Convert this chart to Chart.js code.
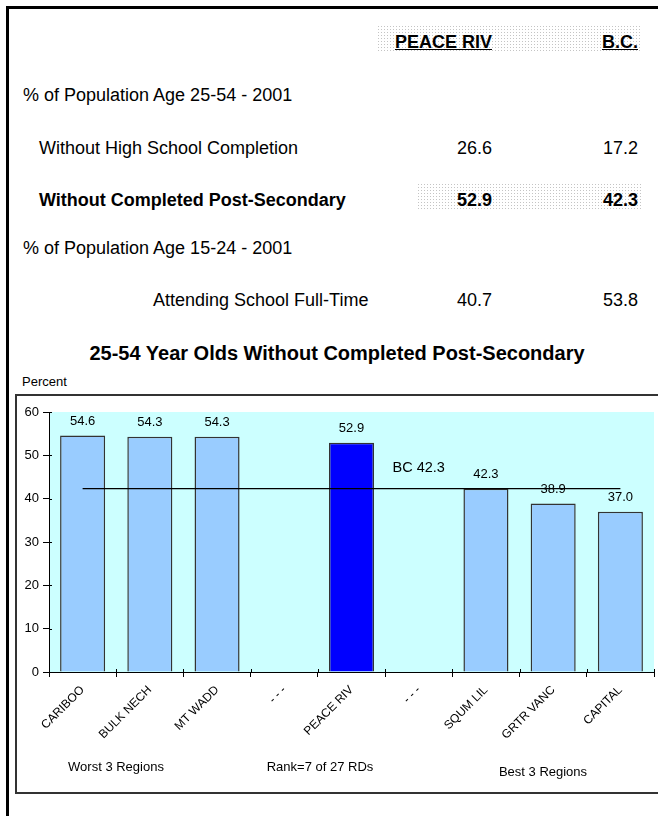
<!DOCTYPE html>
<html><head><meta charset="utf-8">
<script src="https://cdn.jsdelivr.net/npm/chart.js@4.4.0/dist/chart.umd.min.js"></script>
<style>
html,body{margin:0;padding:0;background:#fff;width:658px;height:816px;overflow:hidden;position:relative;font-family:"Liberation Sans",Arial,Helvetica,sans-serif;color:#000}
.frame{position:absolute;left:6px;top:6px;width:800px;height:900px;border-top:3px solid #000;border-left:3px solid #000}
.t{position:absolute;white-space:nowrap;font-size:18px;line-height:20px}
.dots{position:absolute;background-image:url("data:image/svg+xml;utf8,<svg xmlns='http://www.w3.org/2000/svg' width='3' height='3'><rect width='1' height='1' fill='%23c4c4c4'/></svg>")}
#box{position:absolute;left:15px;top:394px;width:800px;height:400px;border:2px solid #333;box-sizing:border-box}
#cv{position:absolute;left:16px;top:395px}
.c{position:absolute;white-space:nowrap;transform:translateX(-50%)}
</style></head>
<body>
<div class="frame"></div>
<div class="dots" style="left:378px;top:26px;width:263px;height:27px"></div>
<div class="dots" style="left:418px;top:184px;width:223px;height:26px"></div>
<div id="table"></div>
<div class="c" style="left:337px;top:341px;font-size:20px;line-height:24px;font-weight:bold">25-54 Year Olds Without Completed Post-Secondary</div>
<div class="t" style="left:22px;top:374px;font-size:13px;line-height:16px">Percent</div>
<div id="box"></div>
<canvas id="cv" width="642" height="398"></canvas>
<div id="notes"></div>
<script>
// ---- data ----
const tableHeaders = ['PEACE RIV', 'B.C.'];
const tableRowLabels = ['% of Population Age 25-54 - 2001', 'Without High School Completion', 'Without Completed Post-Secondary', '% of Population Age 15-24 - 2001', 'Attending School Full-Time'];
const peaceRivValues = [null, 26.6, 52.9, null, 40.7];
const bcTableValues = [null, 17.2, 42.3, null, 53.8];

const categories = ['CARIBOO', 'BULK NECH', 'MT WADD', '- - -', 'PEACE RIV', '- - -', 'SQUM LIL', 'GRTR VANC', 'CAPITAL'];
const regionValues = [54.6, 54.3, 54.3, null, 52.9, null, 42.3, 38.9, 37.0];
const bcLineValues = [42.3, 42.3, 42.3, 42.3, 42.3, 42.3, 42.3, 42.3, 42.3];
const bcLabel = 'BC';
const yTickValues = [0, 10, 20, 30, 40, 50, 60];
const groupNotes = ['Worst 3 Regions', 'Rank=7 of 27 RDs', 'Best 3 Regions'];
const highlightRegion = 'PEACE RIV';

// ---- layout (not data) ----
const rowTops = [85, 138, 190, 238, 290];
const rowLefts = [23, 39, 39, 23, 153];
const rowBold = [false, false, true, false, false];
const colRights = [492, 638];
const noteLayout = [[116, 759], [320, 759], [543, 764]];

const tbl = document.getElementById('table');
function addText(txt, css) {
  const d = document.createElement('div');
  d.className = 't';
  d.textContent = txt;
  Object.assign(d.style, css);
  tbl.appendChild(d);
}
tableHeaders.forEach((h, i) => {
  addText(h, {right: (658 - colRights[i]) + 'px', top: '32px', fontWeight: 'bold', textDecoration: 'underline'});
});
tableRowLabels.forEach((lab, i) => {
  const st = {left: rowLefts[i] + 'px', top: rowTops[i] + 'px'};
  if (rowBold[i]) st.fontWeight = 'bold';
  addText(lab, st);
  [peaceRivValues, bcTableValues].forEach((arr, c) => {
    if (arr[i] !== null) {
      const s2 = {right: (658 - colRights[c]) + 'px', top: rowTops[i] + 'px'};
      if (rowBold[i]) s2.fontWeight = 'bold';
      addText(arr[i].toFixed(1), s2);
    }
  });
});
const notes = document.getElementById('notes');
groupNotes.forEach((n, i) => {
  const d = document.createElement('div');
  d.className = 'c';
  d.style.left = noteLayout[i][0] + 'px';
  d.style.top = noteLayout[i][1] + 'px';
  d.style.fontSize = '13px';
  d.style.lineHeight = '16px';
  d.textContent = n;
  notes.appendChild(d);
});

Chart.defaults.font.family = '"Liberation Sans", Arial, Helvetica, sans-serif';
Chart.defaults.color = '#000';

const labelPlugin = {
  id: 'labelPlugin',
  beforeDraw(chart) {
    const a = chart.chartArea, ctx = chart.ctx;
    ctx.save();
    ctx.fillStyle = '#CCFFFF';
    ctx.fillRect(a.left, a.top, a.right - a.left, a.bottom - a.top);
    ctx.restore();
  },
  afterDraw(chart) {
    const ctx = chart.ctx;
    const a = chart.chartArea;
    ctx.save();
    // inward tick stubs so ticks cross the axes
    ctx.strokeStyle = '#000';
    ctx.lineWidth = 1;
    ctx.beginPath();
    const ys = chart.scales.y;
    yTickValues.forEach(v => {
      const y = Math.round(ys.getPixelForValue(v)) + 0.5;
      ctx.moveTo(a.left, y); ctx.lineTo(a.left + 3, y);
    });
    const xs = chart.scales.x;
    const n = categories.length;
    for (let i = 0; i <= n; i++) {
      const x = Math.round(xs.left + (xs.right - xs.left) * i / n) + 0.5;
      ctx.moveTo(x, a.bottom); ctx.lineTo(x, a.bottom - 3);
    }
    ctx.stroke();

    ctx.fillStyle = '#000';
    ctx.textAlign = 'center';
    ctx.textBaseline = 'middle';
    ctx.font = '13px "Liberation Sans", Arial, sans-serif';
    const barMeta = chart.getDatasetMeta(0);
    barMeta.data.forEach((el, i) => {
      const v = regionValues[i];
      if (v === null || v === undefined) return;
      ctx.fillText(v.toFixed(1), el.x, el.y - 14);
    });
    const lineMeta = chart.getDatasetMeta(1);
    const idx = 5;
    const p = lineMeta.data[idx];
    ctx.font = '14.5px "Liberation Sans", Arial, sans-serif';
    ctx.fillText(bcLabel + ' ' + bcLineValues[idx].toFixed(1), p.x, p.y - 21);
    ctx.restore();
  }
};

new Chart(document.getElementById('cv'), {
  type: 'bar',
  data: {
    labels: categories,
    datasets: [
      {
        type: 'bar',
        data: regionValues,
        backgroundColor: categories.map(c => c === highlightRegion ? '#0000FF' : '#99CCFF'),
        borderColor: '#333333',
        borderWidth: 1.5,
        barPercentage: 0.67,
        categoryPercentage: 1.0,
        order: 2
      },
      {
        type: 'line',
        data: bcLineValues,
        borderColor: '#000',
        borderWidth: 1.2,
        pointRadius: 0,
        fill: false,
        order: 1
      }
    ]
  },
  plugins: [labelPlugin],
  options: {
    responsive: false,
    animation: false,
    layout: {padding: {top: 17, right: 4, left: 0, bottom: 0}},
    plugins: {legend: {display: false}, tooltip: {enabled: false}, title: {display: false}},
    scales: {
      x: {
        offset: true,
        grid: {offset: true, drawOnChartArea: false, tickLength: 5, color: '#000', lineWidth: 1},
        border: {color: '#000', width: 1},
        ticks: {autoSkip: false, maxRotation: 45, minRotation: 45, font: {size: 12}, color: '#000', padding: 6},
        afterFit(s) { s.height = 121; }
      },
      y: {
        min: 0, max: 60,
        afterBuildTicks(s) { s.ticks = yTickValues.map(v => ({value: v})); },
        grid: {drawOnChartArea: false, tickLength: 6, color: '#000'},
        border: {color: '#000', width: 1},
        ticks: {font: {size: 13}, color: '#000', padding: 4},
        afterFit(s) { s.width = 33; }
      }
    }
  }
});
</script>
</body></html>
